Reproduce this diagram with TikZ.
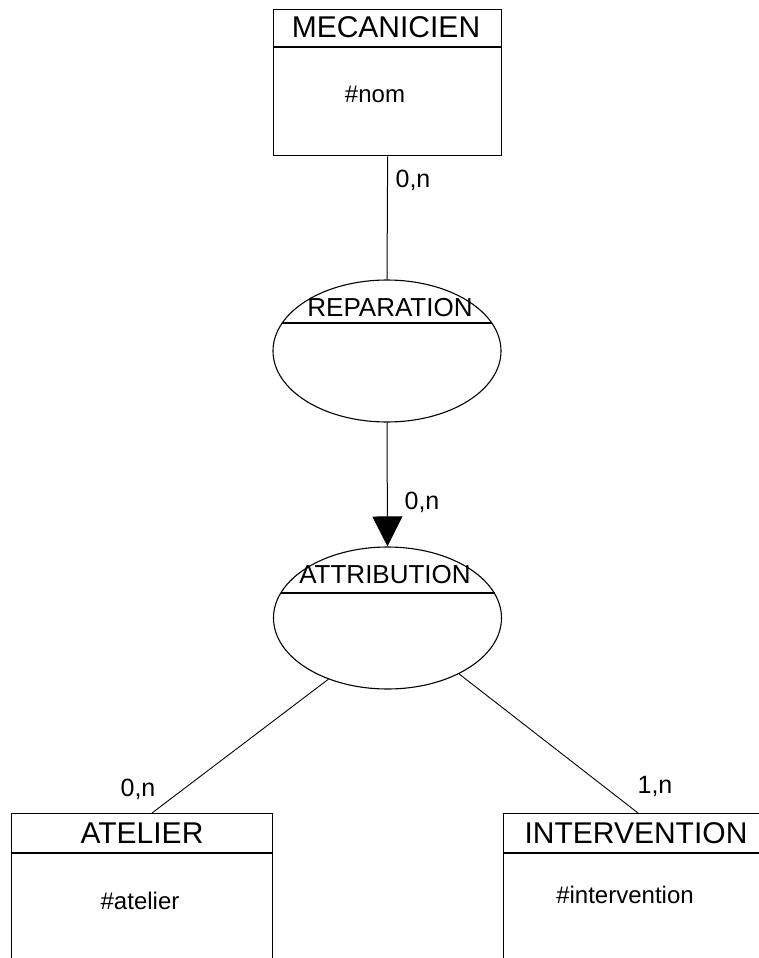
\documentclass[tikz,border=0pt]{standalone}
\usepackage{fontspec}
\setmainfont{Liberation Sans}
\usetikzlibrary{shapes.geometric,arrows.meta,calc}
\begin{document}
\begin{tikzpicture}[x=1pt,y=-1pt,
  entbox/.style={draw,line width=1.3pt,rectangle,inner sep=0pt,anchor=north west},
  relell/.style={draw,line width=1.1pt,ellipse,inner sep=0pt,minimum width=228pt,minimum height=142pt},
  enttitle/.style={inner sep=0pt,font=\fontsize{30}{32}\selectfont},
  reltitle/.style={inner sep=0pt,font=\fontsize{26}{28}\selectfont},
  attr/.style={inner sep=0pt,font=\fontsize{24}{26}\selectfont},
  card/.style={inner sep=0pt,font=\fontsize{25}{27}\selectfont},
  link/.style={line width=1pt},
  sep/.style={line width=1.2pt}]
\useasboundingbox (0,0) rectangle (759,958);
\clip (0,0) rectangle (759,958);
% entities
\node[entbox,minimum width=228pt,minimum height=146pt] (mec) at (273,9) {};
\node[entbox,minimum width=261pt,minimum height=200pt] (atel) at (11,813) {};
\node[entbox,minimum width=297pt,minimum height=200pt] (interv) at (503,813) {};
\draw[sep] ($(mec.north west)+(0,38)$) -- ($(mec.north east)+(0,38)$);
\draw[sep] ($(atel.north west)+(0,40)$) -- ($(atel.north east)+(0,40)$);
\draw[sep] ($(interv.north west)+(0,40)$) -- ($(interv.north east)+(0,40)$);
\node[enttitle] (mect) at (386,27) {MECANICIEN};
\node[enttitle] (atelt) at (142,833) {ATELIER};
\node[enttitle] (intervt) at (636,833) {INTERVENTION};
\node[attr] (meca) at (375,94) {\#nom};
\node[attr] (atela) at (140,901) {\#atelier};
\node[attr] (interva) at (625,895) {\#intervention};
% relationships
\node[relell] (rep) at (387,351) {};
\node[relell] (att) at (387.5,618) {};
\draw[sep] ($(rep.center)+(-105,-28)$) -- ($(rep.center)+(105,-28)$);
\draw[sep] ($(att.center)+(-107,-25)$) -- ($(att.center)+(107,-25)$);
\node[reltitle] (rept) at (390,308) {REPARATION};
\node[reltitle] (attt) at (385,575) {ATTRIBUTION};
% connectors
\coordinate (atelTop) at ($(atel.north west)+(141,0)$);
\coordinate (intervTop) at ($(interv.north west)+(135,0)$);
\draw[link] (mec.south) -- (rep.north);
\draw[link,-{Triangle[length=30pt,width=30pt]}] (rep.south) -- (att.north);
\draw[link,line width=0.9pt] (att.226) -- (atelTop);
\draw[link,line width=0.9pt] (att.322) -- (intervTop);
% cardinalities
\node[card] (c1) at (413,180) {0,n};
\node[card] (c2) at (422,502) {0,n};
\node[card] (c3) at (138,789) {0,n};
\node[card] (c4) at (655,786) {1,n};
\end{tikzpicture}
\end{document}
